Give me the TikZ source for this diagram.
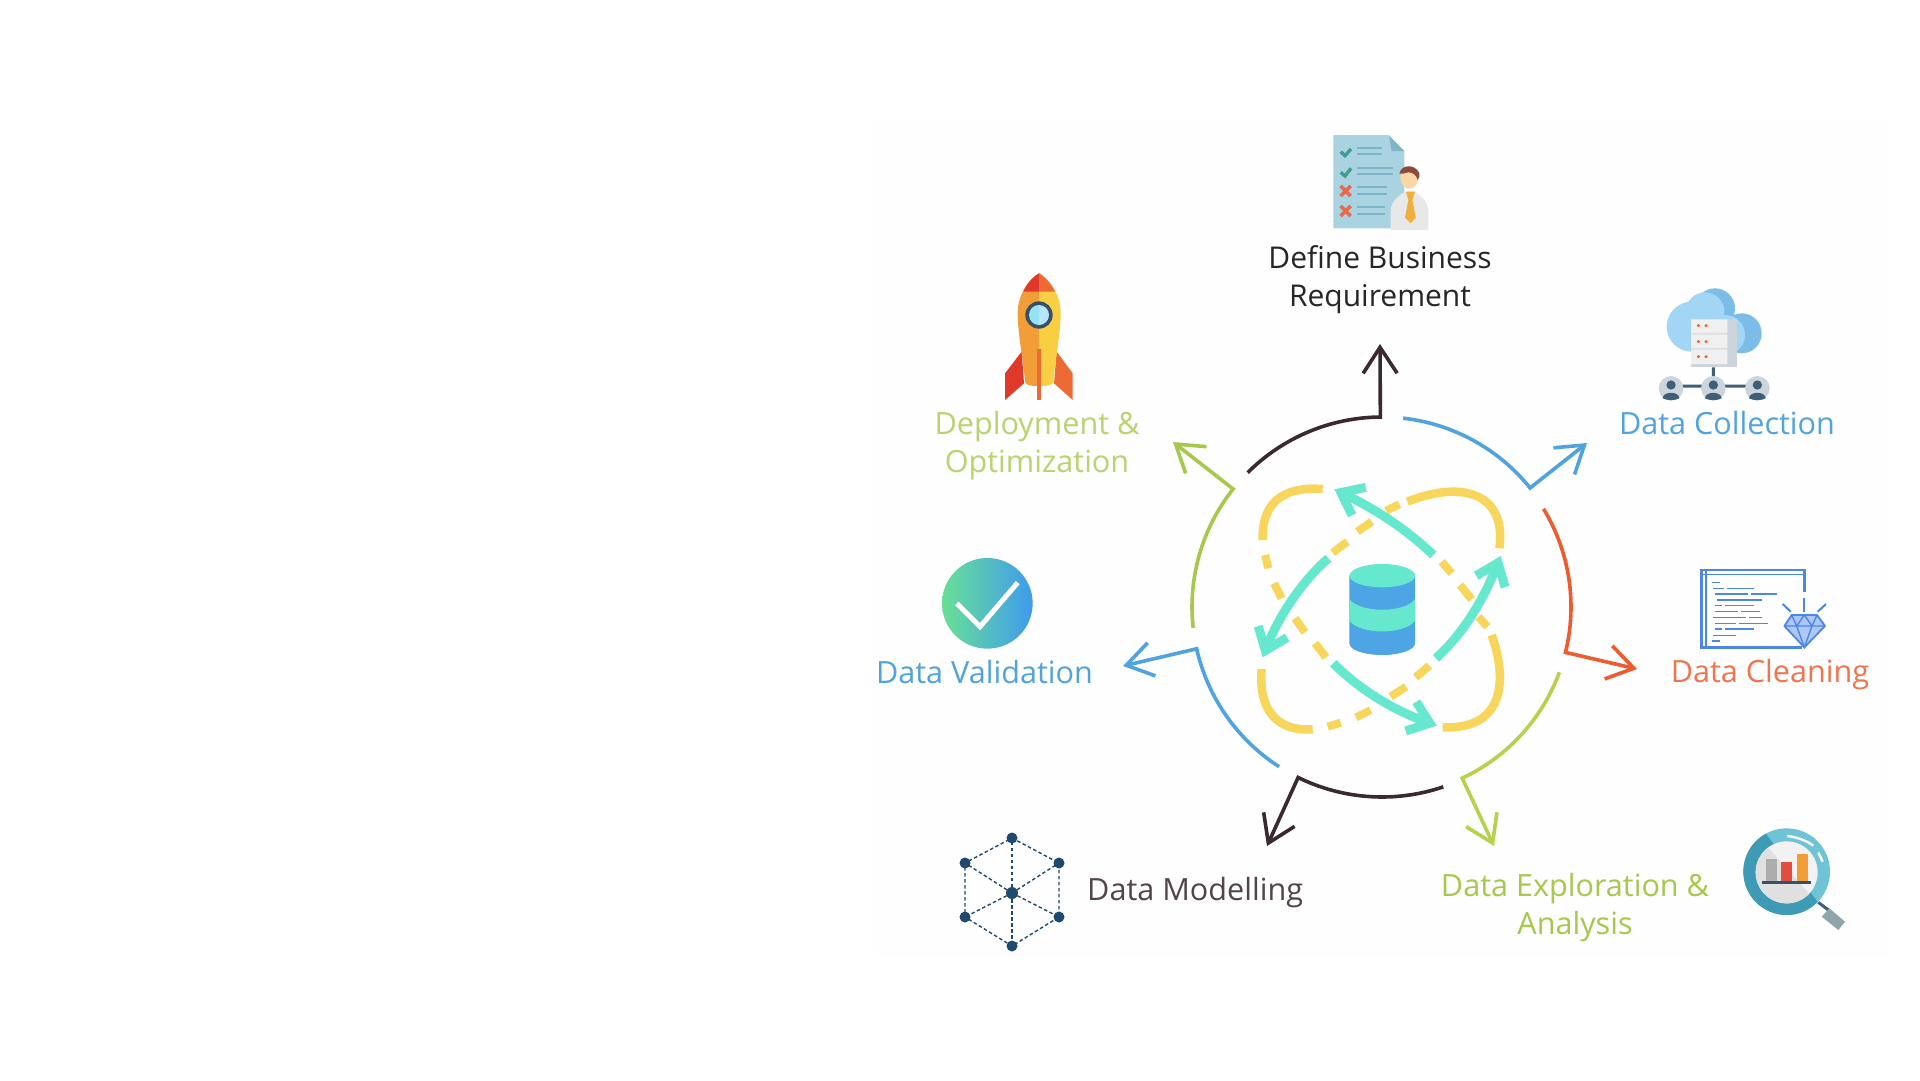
\documentclass[tikz,border=0pt]{standalone}
\usepackage{fontspec}
\setmainfont{Open Sans}
\usetikzlibrary{arrows.meta,calc,shapes.geometric}
\definecolor{cdark}{HTML}{3A2A2E}
\definecolor{cblue}{HTML}{4FA3DE}
\definecolor{cred}{HTML}{EE5B2F}
\definecolor{cgreen}{HTML}{A6C84B}
\definecolor{cgreenb}{HTML}{B5D24A}
\definecolor{cyel}{HTML}{F8D65C}
\definecolor{cmint}{HTML}{66E8CF}
\definecolor{cdb}{HTML}{4DA5E5}
\definecolor{cpage}{HTML}{A9D3E0}
\definecolor{cpaged}{HTML}{7DB5C6}
\definecolor{cnet}{HTML}{1F4A6E}
\definecolor{ccode}{HTML}{4C86E8}
\definecolor{cuser}{HTML}{3F5F78}
\definecolor{cgrayb}{HTML}{CDD5DC}
\definecolor{cclouda}{HTML}{7BBDE8}
\definecolor{ccloudb}{HTML}{A3D6F5}
\definecolor{ringa}{HTML}{6FC3D6}
\definecolor{ringb}{HTML}{3F9AB5}
\definecolor{rockr}{HTML}{E0392B}
\definecolor{rocko}{HTML}{F29E38}
\definecolor{rocky}{HTML}{F9CE43}
\definecolor{rockf}{HTML}{EE6A35}
\definecolor{tiec}{HTML}{F0AE3C}
\definecolor{hairc}{HTML}{8A4B38}
\definecolor{skinc}{HTML}{F8D6A8}
\definecolor{checkc}{HTML}{3F9E8F}
\definecolor{crossc}{HTML}{E86A4A}
\definecolor{okl}{HTML}{68E095}
\definecolor{okr}{HTML}{3F9BEE}
\definecolor{mgray}{HTML}{8FA5AB}
\tikzset{
 lbl/.style={font=\fontsize{30.6}{38.6}\selectfont,align=center,inner sep=0pt},
 flow/.style={line width=3.6pt,miter limit=10,-{Straight Barb[length=26pt,width=34pt,line width=3.6pt]}},
 yelsolid/.style={draw=cyel,line width=8.5pt},
 yeldash/.style={draw=cyel,line width=8pt},
 mint/.style={draw=cmint,line width=9pt,-{Straight Barb[length=20pt,width=31pt,line width=9pt]}},
 codeln/.style={draw=ccode,line width=1.5pt},
 netln/.style={draw=cnet,line width=1.4pt,dash pattern=on 3.5pt off 2.5pt},
 netdot/.style={fill=cnet},
 pline/.style={draw=cpaged,line width=2pt}
}
\begin{document}
\begin{tikzpicture}[x=1pt,y=1pt,yscale=-1]
\useasboundingbox (0,0) rectangle (1920,1080);
\fill[white] (0,0) rectangle (1920,1080);
\fill[black!0.5] (874,122) rectangle (1889,957);

\coordinate (c) at (1382,607);
\coordinate (tipA) at (1380,344);
\coordinate (tipB) at (1587,443);
\coordinate (tipC) at (1637,669);
\coordinate (tipD) at (1494,846);
\coordinate (tipE) at (1267,846);
\coordinate (tipF) at (1123,666);
\coordinate (tipG) at (1173,442);

% ring arrows
\draw[flow,cdark] (c) ++(225:190) arc[start angle=225,end angle=269.5,radius=190] -- (tipA);
\draw[flow,cblue] (c) ++(276.4:190) arc[start angle=276.4,end angle=321.2,radius=190] -- (tipB);
\draw[flow,cred] (c) ++(-31.3:189) arc[start angle=-31.3,end angle=13.9,radius=189] -- (tipC);
\draw[flow,cgreenb] (c) ++(20.2:189) arc[start angle=20.2,end angle=64.9,radius=189] -- (tipD);
\draw[flow,cdark] (c) ++(71.2:190) arc[start angle=71.2,end angle=116.2,radius=190] -- (tipE);
\draw[flow,cblue] (c) ++(122.8:190) arc[start angle=122.8,end angle=167.3,radius=190] -- (tipF);
\draw[flow,cgreen] (c) ++(173.7:190) arc[start angle=173.7,end angle=218.4,radius=190] -- (tipG);

% central atom, in crop coordinates
\begin{scope}[shift={(1150,400)},scale=1/3]
\draw[yelsolid] (518,267) .. controls (420,260) and (335,290) .. (338,420);
\draw[yelsolid] (1025,705) .. controls (1070,830) and (1070,990) .. (878,982);
\draw[yelsolid] (335,807) .. controls (325,930) and (380,995) .. (488,988);
\draw[yelsolid] (772,305) .. controls (950,235) and (1070,290) .. (1048,445);
\foreach \a/\b/\p/\q in {345/465/355/505,372/550/395/595,435/655/465/697,495/730/528/772,
 875/485/905/520,930/555/965/598,985/650/1012/680,
 533/980/572/968,618/952/662/930,722/890/768/860,797/832/838/797,
 708/332/748/313,622/395/665/365,548/458/592/425}
 \draw[yeldash] (\a,\b) -- (\p,\q);
\draw[mint] (850,465) .. controls (760,380) and (670,325) .. (553,268);
\draw[mint] (535,475) .. controls (460,540) and (390,640) .. (338,772);
\draw[mint] (550,790) .. controls (630,870) and (730,930) .. (860,977);
\draw[mint] (858,775) .. controls (940,700) and (1000,600) .. (1052,468);
% database
\fill[cdb] (598,527) -- (795,527) -- (795,730) arc[start angle=0,end angle=180,x radius=98.5,y radius=35] -- cycle;
\fill[cmint] (598,597) .. controls (630,640) and (765,640) .. (795,597) -- (795,662) .. controls (765,705) and (630,705) .. (598,662) -- cycle;
\fill[cmint] (697,527) ellipse [x radius=98.5,y radius=35];
\end{scope}

% labels
\node[lbl,text=black!85,font=\fontsize{30}{38.6}\selectfont] (defn) at (1380,279.5) {Define Business\\Requirement};
\node[lbl,text=cblue] (coll) at (1727,423.5) {Data Collection};
\node[lbl,text=cred!85!white] (clean) at (1770,675) {Data Cleaning};
\node[lbl,text=cgreen] (expl) at (1575,907.5) {Data Exploration \&\\Analysis};
\node[lbl,text=cdark!88!white,anchor=west] (model) at (1087,892.5) {Data Modelling};
\node[lbl,text=cblue] (valid) at (984.5,672) {Data Validation};
\node[lbl,text=cgreen!80!white] (depl) at (1037,445.5) {Deployment \&\\Optimization};

% document with person
\begin{scope}[shift={(1325,125)},scale=1/3]
\fill[cpage] (25,30) -- (190,30) -- (238,80) -- (238,310) -- (25,310) -- cycle;
\fill[cpaged] (192,32) -- (238,78) -- (200,78) -- cycle;
\foreach \y/\w in {68/170,88/170,128/205,146/205,186/185,207/185,245/180,267/180}
 \draw[pline] (97,\y) -- (\w,\y);
\draw[draw=checkc,line width=3.4pt] (47,80) -- (60,92) -- (78,72);
\draw[draw=checkc,line width=3.4pt] (47,142) -- (60,153) -- (78,130);
\foreach \y in {198,258}
 \draw[draw=crossc,line width=3.5pt] (47,\y-15) -- (77,\y+15) (77,\y-15) -- (47,\y+15);
\fill[black!9] (197,315) -- (197,255) .. controls (200,225) and (225,210) .. (240,200) -- (265,200) .. controls (285,210) and (307,225) .. (310,255) -- (310,315) -- cycle;
\fill[tiec] (243,200) -- (270,200) -- (262,225) -- (272,278) -- (257,295) -- (240,278) -- (250,225) -- cycle;
\fill[skinc] (253,158) ellipse [x radius=27,y radius=33];
\fill[hairc] (223,146) .. controls (228,118) and (270,115) .. (283,145) .. controls (285,152) and (282,160) .. (278,165) .. controls (275,152) and (265,142) .. (250,142) .. controls (240,144) and (230,148) .. (223,146) -- cycle;
\end{scope}

% cloud server
\begin{scope}[shift={(1650,280)},scale=1/3]
\fill[cclouda] (195,85) circle (60) (275,160) circle (60);
\fill[ccloudb] (125,140) circle (75) (165,95) circle (58) (225,165) circle (60);
\fill[cgrayb] (123,118) rectangle (262,262);
\fill[black!6] (123,118) rectangle (232,160) (123,163) rectangle (232,205) (123,208) rectangle (232,252);
\foreach \y in {137,185,230} {
 \fill[cred] (145,\y) circle (5) (168,\y) circle (5);
}
\coordinate (uL) at (63,325); \coordinate (uM) at (190,325); \coordinate (uR) at (322,325);
\draw[draw=cuser,line width=3pt] (190,262) -- (uM) (63,318) -- (322,318);
\foreach \u in {uL,uM,uR} {
 \fill[cgrayb] (\u) circle (37);
 \fill[cuser] ($(\u)+(0,-10)$) circle (14);
 \fill[cuser] ($(\u)+(-25,30)$) .. controls ($(\u)+(-25,8)$) and ($(\u)+(25,8)$) .. ($(\u)+(25,30)$) .. controls ($(\u)+(12,37)$) and ($(\u)+(-12,37)$) .. ($(\u)+(-25,30)$) -- cycle;
}
\end{scope}

% rocket and check
\begin{scope}[shift={(880,260)},scale=1/3]
\fill[rockr] (425,275) -- (375,340) -- (375,420) -- (432,370) -- cycle;
\fill[rockf] (530,275) -- (578,340) -- (578,420) -- (522,370) -- cycle;
\fill[rocko] (477,40) .. controls (450,55) and (413,100) .. (413,160) .. controls (413,220) and (430,300) .. (435,365) .. controls (436,375) and (450,378) .. (477,378) -- cycle;
\fill[rocky] (477,40) .. controls (504,55) and (542,100) .. (542,160) .. controls (542,220) and (525,300) .. (520,365) .. controls (519,375) and (504,378) .. (477,378) -- cycle;
\fill[rockr] (477,40) .. controls (460,50) and (440,70) .. (430,95) -- (477,95) -- cycle;
\fill[rockf] (477,40) .. controls (494,50) and (514,70) .. (525,95) -- (477,95) -- cycle;
\fill[rockf] (472,268) rectangle (483,420);
\fill[cuser!85!black] (477,165) circle (41);
\fill[cblue!60!cyan!50!white] (477,135) arc[start angle=-90,end angle=-270,radius=30] -- cycle;
\fill[cyan!30!white] (477,135) arc[start angle=-90,end angle=90,radius=30] -- cycle;
\shade[left color=okl,right color=okr] (322,1030) circle (136);
\draw[white,line width=5pt] (230,1030) -- (300,1100) -- (413,968);
\end{scope}

% network
\coordinate (n0) at (1012,893);
\coordinate (n1) at (1012,838); \coordinate (n2) at (1059,863); \coordinate (n3) at (1059,917);
\coordinate (n4) at (1012,946); \coordinate (n5) at (965,917); \coordinate (n6) at (965,863);
\draw[netln] (n1) -- (n2) -- (n3) -- (n4) -- (n5) -- (n6) -- (n1);
\foreach \n in {n1,n2,n3,n4,n5,n6} { \draw[netln] (n0) -- (\n); }
\foreach \n in {n1,n2,n3,n4,n5,n6} { \fill[netdot] (\n) circle (5.5); }
\fill[netdot] (n0) circle (6);

% magnifier
\begin{scope}[shift={(1730,815)},scale=1/3]
\draw[cuser,line width=3pt] (265,262) -- (295,285);
\fill[mgray] (298,280) -- (345,320) -- (325,345) -- (275,305) -- cycle;
\fill[ringa] (170,170) circle (130);
\begin{scope}
\clip (80,20) -- (270,270) -- (270,320) -- (20,320) -- (20,20) -- cycle;
\fill[ringb] (170,170) circle (130);
\end{scope}
\fill[black!5] (170,172) circle (93);
\begin{scope}
\clip (90,70) -- (260,262) -- (60,280) -- (60,70) -- cycle;
\fill[black!12] (170,172) circle (93);
\end{scope}
\fill[black!32] (107,133) rectangle (140,197);
\fill[rockr!90!white] (153,140) rectangle (187,197);
\fill[rocko] (200,117) rectangle (233,197);
\draw[cuser!85!black,line width=2.8pt] (97,203) -- (243,203);
\draw[white,line width=2.4pt] (172,63) .. controls (200,66) and (228,76) .. (250,92);
\draw[white,line width=2.4pt] (265,113) -- (278,140);
\end{scope}

% code window and diamond
\begin{scope}[shift={(1660,540)},scale=1/3]
\draw[ccode,line width=2.6pt] (433,155) -- (433,90) -- (125,90) -- (125,323) -- (425,323);
\draw[ccode,line width=1.6pt] (125,103) -- (433,103);
\draw[ccode,line width=1.6pt] (138,90) -- (138,323);
\draw[ccode,line width=2pt] (433,175) -- (433,215);
\draw[ccode,line width=2pt] (368,192) -- (392,215) (498,192) -- (473,215);
\foreach \a/\b/\y in {155/180/127,160/192/145,200/282/145,165/263/162,273/352/162,172/305/180,165/187/197,195/282/197,165/235/215,243/300/215,160/257/232,267/305/232,165/228/250,237/323/250,165/187/267,195/282/267,160/228/286,155/180/303}
 \draw[codeln] (\a,\y) -- (\b,\y);
\fill[ccode!45!white] (395,225) -- (471,225) -- (495,258) -- (433,322) -- (373,258) -- cycle;
\draw[ccode,line width=1.8pt,line join=round] (395,225) -- (471,225) -- (495,258) -- (433,322) -- (373,258) -- cycle;
\draw[ccode,line width=1.4pt] (373,258) -- (495,258) (395,225) -- (410,258) -- (433,322) -- (456,258) -- (471,225) (410,258) -- (433,225) -- (456,258);
\end{scope}
\end{tikzpicture}
\end{document}
